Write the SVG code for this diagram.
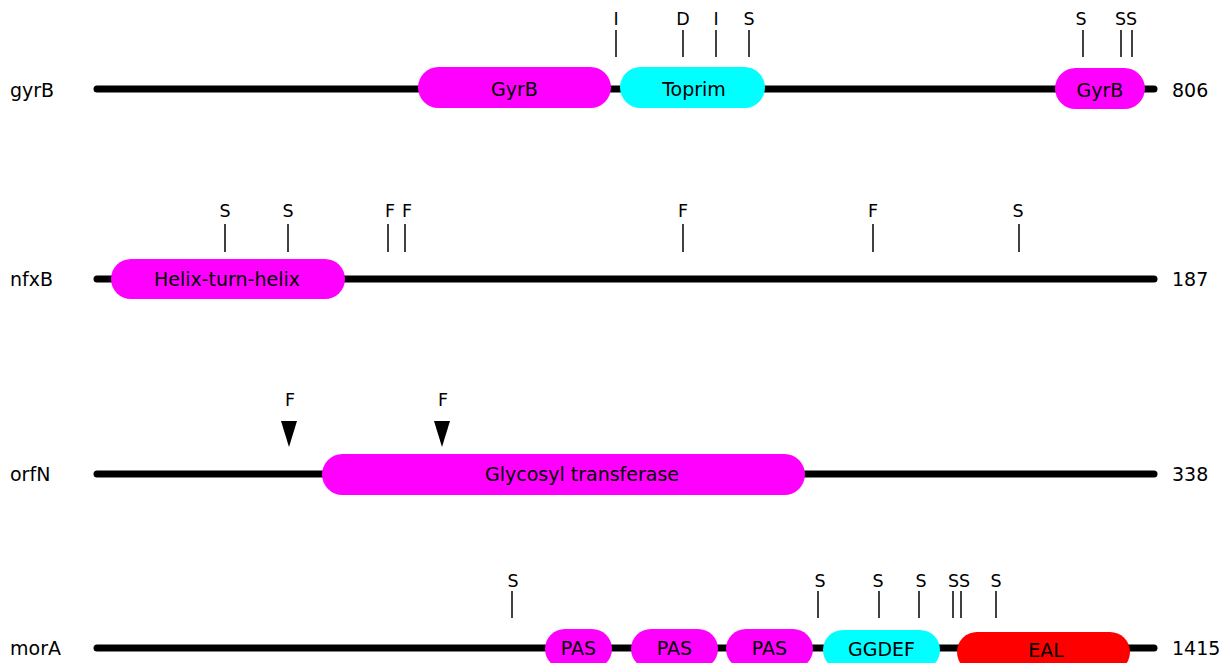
<svg xmlns="http://www.w3.org/2000/svg" width="1221" height="663" viewBox="0 0 1221 663">
  <defs>
    <style>
      text { font-family: "DejaVu Sans", "Liberation Sans", sans-serif; font-size: 19px; fill: #000; }
      .name { text-anchor: start; }
      .len { text-anchor: start; }
      .dom { text-anchor: middle; }
      .site { text-anchor: middle; font-size: 17.5px; }
      .backbone { stroke: #000; stroke-width: 7; stroke-linecap: round; fill: none; }
      .tick { stroke: #111; stroke-width: 1.6; fill: none; }
      .mag { fill: #ff00ff; }
      .cyan { fill: #00ffff; }
      .red { fill: #ff0000; }
      .arrow { fill: #000; }
    </style>
  </defs>
  <rect width="1221" height="663" fill="#ffffff"/>

  <!-- protein backbones -->
  <g id="backbones">
    <line class="backbone" x1="97" y1="89" x2="1154" y2="89"/>
    <line class="backbone" x1="97" y1="279" x2="1154" y2="279"/>
    <line class="backbone" x1="97" y1="474" x2="1154" y2="474"/>
    <line class="backbone" x1="97" y1="648" x2="1154" y2="648"/>
  </g>

  <!-- site markers -->
  <g id="sites">
    <!-- gyrB -->
    <line class="tick" x1="616" y1="30" x2="616" y2="57"/>
    <line class="tick" x1="683" y1="30" x2="683" y2="57"/>
    <line class="tick" x1="716" y1="30" x2="716" y2="57"/>
    <line class="tick" x1="749" y1="30" x2="749" y2="57"/>
    <line class="tick" x1="1083" y1="30" x2="1083" y2="57"/>
    <line class="tick" x1="1121" y1="30" x2="1121" y2="57"/>
    <line class="tick" x1="1132" y1="30" x2="1132" y2="57"/>
    <text class="site" x="616" y="25">I</text>
    <text class="site" x="683" y="25">D</text>
    <text class="site" x="716" y="25">I</text>
    <text class="site" x="749" y="25">S</text>
    <text class="site" x="1081" y="25">S</text>
    <text class="site" x="1126" y="25">SS</text>
    <!-- nfxB -->
    <line class="tick" x1="225" y1="224" x2="225" y2="252"/>
    <line class="tick" x1="288" y1="224" x2="288" y2="252"/>
    <line class="tick" x1="388" y1="224" x2="388" y2="252"/>
    <line class="tick" x1="405" y1="224" x2="405" y2="252"/>
    <line class="tick" x1="683" y1="224" x2="683" y2="252"/>
    <line class="tick" x1="873" y1="224" x2="873" y2="252"/>
    <line class="tick" x1="1019" y1="224" x2="1019" y2="252"/>
    <text class="site" x="225" y="217">S</text>
    <text class="site" x="288" y="217">S</text>
    <text class="site" x="390" y="217">F</text>
    <text class="site" x="407" y="217">F</text>
    <text class="site" x="683" y="217">F</text>
    <text class="site" x="873" y="217">F</text>
    <text class="site" x="1018" y="217">S</text>
    <!-- orfN -->
    <polygon class="arrow" points="281,421 297,421 289,447"/>
    <polygon class="arrow" points="434,421 450,421 442,447"/>
    <text class="site" x="290" y="406">F</text>
    <text class="site" x="443" y="406">F</text>
    <!-- morA -->
    <line class="tick" x1="512" y1="591" x2="512" y2="618"/>
    <line class="tick" x1="818" y1="591" x2="818" y2="618"/>
    <line class="tick" x1="879" y1="591" x2="879" y2="618"/>
    <line class="tick" x1="919" y1="591" x2="919" y2="618"/>
    <line class="tick" x1="953" y1="591" x2="953" y2="618"/>
    <line class="tick" x1="961" y1="591" x2="961" y2="618"/>
    <line class="tick" x1="996" y1="591" x2="996" y2="618"/>
    <text class="site" x="513" y="587">S</text>
    <text class="site" x="820" y="587">S</text>
    <text class="site" x="878" y="587">S</text>
    <text class="site" x="921" y="587">S</text>
    <text class="site" x="959" y="587">SS</text>
    <text class="site" x="996" y="587">S</text>
  </g>

  <!-- gyrB -->
  <g id="gyrB">
    <text class="name" x="10" y="97">gyrB</text>
    <rect class="mag" x="418" y="67" width="193" height="41" rx="20.5"/>
    <text class="dom" x="514.5" y="96">GyrB</text>
    <rect class="cyan" x="620" y="67" width="145" height="41" rx="20.5"/>
    <text class="dom" x="694" y="96">Toprim</text>
    <rect class="mag" x="1055" y="68" width="90" height="41" rx="20.5"/>
    <text class="dom" x="1100" y="97">GyrB</text>
    <text class="len" x="1172" y="97">806</text>
  </g>

  <!-- nfxB -->
  <g id="nfxB">
    <text class="name" x="10" y="286">nfxB</text>
    <rect class="mag" x="111" y="259" width="234" height="40" rx="20"/>
    <text class="dom" x="227" y="286">Helix-turn-helix</text>
    <text class="len" x="1172" y="286">187</text>
  </g>

  <!-- orfN -->
  <g id="orfN">
    <text class="name" x="10" y="481">orfN</text>
    <rect class="mag" x="322" y="454" width="483" height="41" rx="20.5"/>
    <text class="dom" x="582" y="481">Glycosyl transferase</text>
    <text class="len" x="1172" y="481">338</text>
  </g>

  <!-- morA -->
  <g id="morA">
    <text class="name" x="10" y="655">morA</text>
    <rect class="mag" x="545" y="629" width="67" height="40" rx="20"/>
    <text class="dom" x="578.5" y="655">PAS</text>
    <rect class="mag" x="631" y="629" width="87" height="40" rx="20"/>
    <text class="dom" x="674.5" y="655">PAS</text>
    <rect class="mag" x="726" y="629" width="87" height="40" rx="20"/>
    <text class="dom" x="769.5" y="655">PAS</text>
    <rect class="cyan" x="823" y="630" width="117" height="40" rx="20"/>
    <text class="dom" x="881.5" y="656">GGDEF</text>
    <rect class="red" x="957" y="632" width="173" height="40" rx="20"/>
    <text class="dom" x="1046" y="657">EAL</text>
    <text class="len" x="1172" y="655">1415</text>
  </g>
</svg>
